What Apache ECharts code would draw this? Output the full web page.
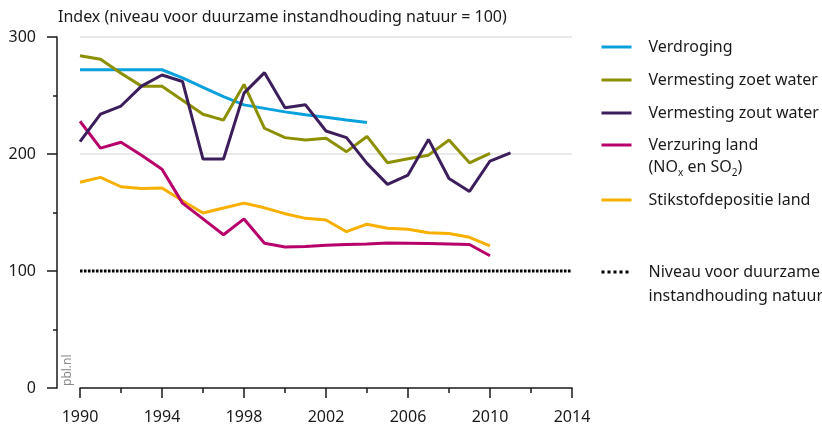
<!DOCTYPE html>
<html>
<head>
<meta charset="utf-8">
<script src="https://cdn.jsdelivr.net/npm/echarts@6/dist/echarts.min.js"></script>
<style>
  html, body { margin: 0; padding: 0; background: #fff; }
  #chart { width: 822px; height: 432px; }
</style>
</head>
<body>
<div id="chart"></div>
<script>
// Index values per year (niveau voor duurzame instandhouding natuur = 100)
const years = [1990, 1991, 1992, 1993, 1994, 1995, 1996, 1997, 1998, 1999, 2000,
               2001, 2002, 2003, 2004, 2005, 2006, 2007, 2008, 2009, 2010, 2011];
const verdroging = [272, 272, 272, 272, 272, 265, 257, 249, 242, 239, 236, 233.5, 231.5, 229, 227];
const vermestingZoet = [284, 281, 269, 258, 258, 246, 234, 229, 259.5, 222, 214, 212, 213.5, 202, 215,
                        192.5, 196, 199, 212, 192.5, 200.5];
const vermestingZout = [210.5, 234, 241, 258, 267.5, 262, 195.7, 195.7, 252, 269.5, 239.6, 242, 219.7,
                        214, 192, 174, 182, 212.5, 179, 168, 194, 201];
const verzuring = [228, 205, 210, 199, 187, 158, 144.5, 131, 144.5, 123.7, 120.5, 121, 122, 122.6, 123,
                   124, 123.8, 123.4, 123, 122.6, 113];
const stikstof = [175.8, 180, 172, 170.6, 171, 160, 149.6, 153.8, 158, 154, 149, 145, 143.6, 133.6, 140,
                  136.5, 135.6, 132.7, 132, 128.8, 121.4];
const normYears = [1990, 2014];
const normLevel = 100;
const xTicks = [1990, 1994, 1998, 2002, 2006, 2010, 2014];
const yTicks = [0, 100, 200, 300];

const names = {
  verdroging: 'Verdroging',
  zoet: 'Vermesting zoet water',
  zout: 'Vermesting zout water',
  verzuring: 'Verzuring land (NOx en SO2)',
  stikstof: 'Stikstofdepositie land',
  norm: 'Niveau voor duurzame instandhouding natuur'
};

const FONT = '"Noto Sans", sans-serif';
const TEXT = '#1a1a1a';
const AXIS = '#1a1a1a';

function pairs(values) {
  return values.map((v, i) => [years[i], v]);
}

function lineSeries(name, values, color) {
  return {
    type: 'line',
    name: name,
    data: pairs(values),
    symbol: 'none',
    showSymbol: false,
    lineStyle: { color: color, width: 3 },
    itemStyle: { color: color },
    z: 3
  };
}

const legendText = {
  fontFamily: FONT, fontSize: 16, color: TEXT, lineHeight: 22,
  padding: [0, 0, 0, 12],
  rich: {
    sub: { fontFamily: FONT, fontSize: 10, color: TEXT, lineHeight: 22, verticalAlign: 'bottom' }
  }
};

function legendBlock(top, data, extra) {
  return Object.assign({
    orient: 'vertical',
    left: 600,
    top: top,
    padding: 0,
    itemGap: 11,
    itemWidth: 30,
    itemHeight: 14,
    selectedMode: false,
    // only the line is shown as the key, not a marker dot
    itemStyle: { color: 'rgba(0,0,0,0)', borderColor: 'rgba(0,0,0,0)', borderWidth: 0 },
    lineStyle: { width: 3 },
    textStyle: legendText,
    data: data
  }, extra || {});
}

const chart = echarts.init(document.getElementById('chart'), null, { renderer: 'canvas' });

chart.setOption({
  animation: false,
  backgroundColor: '#ffffff',
  textStyle: { fontFamily: FONT },
  title: {
    text: 'Index (niveau voor duurzame instandhouding natuur = 100)',
    left: 53,
    top: 4,
    textStyle: { fontFamily: FONT, fontSize: 16, fontWeight: 'normal', color: TEXT }
  },
  grid: { left: 80, right: 250, top: 37, bottom: 44, containLabel: false },
  xAxis: {
    type: 'value',
    min: xTicks[0],
    max: xTicks[xTicks.length - 1],
    interval: 4,
    offset: 1,
    axisLine: { show: true, lineStyle: { color: AXIS, width: 1.5 } },
    axisTick: { show: true, length: 10, lineStyle: { color: AXIS, width: 1.5 } },
    minorTick: { show: true, splitNumber: 2, length: 5, lineStyle: { color: AXIS, width: 1.5 } },
    splitLine: { show: false },
    axisLabel: {
      margin: 20,
      fontFamily: FONT, fontSize: 16, color: TEXT,
      formatter: v => String(v)
    }
  },
  yAxis: {
    type: 'value',
    min: yTicks[0],
    max: yTicks[yTicks.length - 1],
    interval: 100,
    offset: 23,
    axisLine: { show: true, lineStyle: { color: AXIS, width: 1.5 } },
    axisTick: { show: true, length: 10, lineStyle: { color: AXIS, width: 1.5 } },
    minorTick: { show: true, splitNumber: 2, length: 4, lineStyle: { color: AXIS, width: 1.5 } },
    splitLine: {
      show: true,
      lineStyle: { color: ['rgba(0,0,0,0)', '#e3e3e3', '#e3e3e3', '#e3e3e3'], width: 1.5 }
    },
    axisLabel: { margin: 21, fontFamily: FONT, fontSize: 16, color: TEXT }
  },
  legend: [
    legendBlock(36, [names.verdroging, names.zoet, names.zout]),
    legendBlock(112, [names.verzuring], {
      formatter: () => 'Verzuring land\n(NO{sub|x} en SO{sub|2})',
      textStyle: Object.assign({}, legendText, { padding: [22, 0, 0, 12] })
    }),
    legendBlock(189, [names.stikstof]),
    legendBlock(236, [names.norm], {
      formatter: () => 'Niveau voor duurzame\ninstandhouding natuur',
      lineStyle: { width: 3, type: [3, 3] },
      textStyle: Object.assign({}, legendText, { lineHeight: 24, padding: [24, 0, 0, 12] })
    })
  ],
  graphic: [
    {
      type: 'text',
      x: 74,
      y: 386,
      rotation: Math.PI / 2,
      style: { text: 'pbl.nl', fontFamily: FONT, fontSize: 12, fill: '#8a8a8a', align: 'left', verticalAlign: 'bottom' }
    }
  ],
  series: [
    {
      type: 'line',
      name: names.norm,
      data: normYears.map(y => [y, normLevel]),
      symbol: 'none',
      showSymbol: false,
      lineStyle: { color: '#000000', width: 3, type: [2.5, 1.5] },
      itemStyle: { color: '#000000' },
      z: 2
    },
    lineSeries(names.stikstof, stikstof, '#f7b000'),
    lineSeries(names.verzuring, verzuring, '#b8006b'),
    lineSeries(names.verdroging, verdroging, '#0aa1dd'),
    lineSeries(names.zoet, vermestingZoet, '#8c9000'),
    lineSeries(names.zout, vermestingZout, '#3d1e5c')
  ]
});
</script>
</body>
</html>
